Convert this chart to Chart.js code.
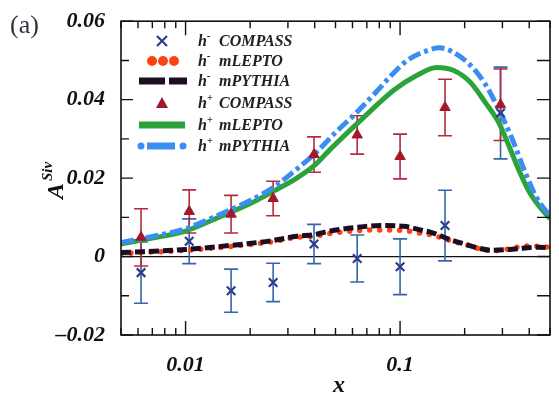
<!DOCTYPE html>
<html>
<head>
<meta charset="utf-8">
<script src="https://cdn.jsdelivr.net/npm/chart.js@4.4.1/dist/chart.umd.min.js"></script>
<style>
  html, body { margin: 0; padding: 0; background: #fff; }
</style>
</head>
<body>
<canvas id="chart" width="559" height="397"></canvas>
<script>
// COMPASS points (same x for h- and h+)
const compassX = [0.0062, 0.0104, 0.0163, 0.0256, 0.0397, 0.0631, 0.100, 0.162, 0.294];
const hMinusVal = [-0.0041, 0.0039, -0.0087, -0.0066, 0.0032, -0.0005, -0.0026, 0.0079, 0.0366];
const hMinusErr = [0.0078, 0.0057, 0.0055, 0.0049, 0.0050, 0.0060, 0.0071, 0.0090, 0.0117];
const hPlusVal = [0.0049, 0.0115, 0.0108, 0.0148, 0.0260, 0.0310, 0.0255, 0.0380, 0.0387];
const hPlusErr = [0.0073, 0.0055, 0.0048, 0.0044, 0.0045, 0.0049, 0.0057, 0.0072, 0.0091];

// model curves, h-
const minusCurveX = [0.005, 0.01, 0.018, 0.0256, 0.033, 0.04, 0.046, 0.062, 0.081, 0.104, 0.124, 0.143, 0.171, 0.203, 0.234, 0.269, 0.322, 0.382, 0.439, 0.5];
const leptoMinus = [0.0008, 0.0016, 0.0028, 0.0038, 0.0049, 0.0052, 0.0058, 0.0066, 0.0068, 0.0066, 0.0060, 0.0054, 0.0041, 0.0030, 0.0020, 0.0015, 0.0019, 0.0027, 0.0026, 0.0024];
const pythiaMinus = [0.0010, 0.0018, 0.0031, 0.0041, 0.0052, 0.0056, 0.0064, 0.0074, 0.0079, 0.0077, 0.0068, 0.0060, 0.0043, 0.0031, 0.0021, 0.0016, 0.0018, 0.0022, 0.0024, 0.0022];

// model curves, h+
const leptoPlusX = [0.005, 0.007, 0.01, 0.014, 0.02, 0.026, 0.033, 0.04, 0.047, 0.066, 0.094, 0.12, 0.148, 0.177, 0.211, 0.251, 0.289, 0.323, 0.357, 0.4, 0.45, 0.5];
const leptoPlus = [0.0032, 0.0047, 0.0065, 0.0098, 0.0135, 0.0168, 0.0200, 0.0233, 0.0272, 0.0349, 0.0425, 0.0462, 0.0482, 0.0475, 0.0446, 0.0391, 0.0341, 0.0280, 0.0222, 0.0165, 0.0125, 0.0097];
const pythiaPlusX = [0.005, 0.007, 0.01, 0.014, 0.02, 0.026, 0.033, 0.04, 0.05, 0.064, 0.079, 0.091, 0.108, 0.134, 0.153, 0.177, 0.217, 0.251, 0.289, 0.333, 0.383, 0.433, 0.5];
const pythiaPlus = [0.0036, 0.0051, 0.0071, 0.0104, 0.0143, 0.0178, 0.0223, 0.0262, 0.0316, 0.0372, 0.0425, 0.0462, 0.0500, 0.0525, 0.0532, 0.0521, 0.0483, 0.0437, 0.0374, 0.0300, 0.0215, 0.0150, 0.0103];

// axis ticks
const xTicks = [0.005, 0.006, 0.007, 0.008, 0.009, 0.01, 0.02, 0.03, 0.04, 0.05, 0.06, 0.07, 0.08, 0.09, 0.1, 0.2, 0.3, 0.4, 0.5];
const xLabelVals = [0.01, 0.1];
const xLabelText = ['0.01', '0.1'];
const yLabelVals = [0.06, 0.04, 0.02, 0, -0.02];
const yLabelText = ['0.06', '0.04', '0.02', '0', '\u20130.02'];

const legendNames = ['COMPASS', 'mLEPTO', 'mPYTHIA', 'COMPASS', 'mLEPTO', 'mPYTHIA'];
const legendSigns = ['-', '-', '-', '+', '+', '+'];

const C = {
  xMark: '#2b3d8c', xBar: '#3465ad',
  tri: '#a3182c', triBar: '#b52a3e',
  dots: '#ff4212', dash: '#1c0e20',
  green: '#2ba33b', blue: '#3a8ef2'
};
const serif = '"Liberation Serif", "Times New Roman", serif';

const pts = (xs, ys) => xs.map((v, i) => ({ x: v, y: ys[i] }));
const findLabel = (vals, txt, v) => {
  const i = vals.findIndex(t => Math.abs(t - v) < 1e-9);
  return i >= 0 ? txt[i] : '';
};

// Ticks, frame, error bars, legend, titles
const decor = {
  id: 'decor',
  beforeDatasetsDraw(chart) {
    const { ctx, chartArea: a, scales: { x, y } } = chart;
    ctx.save();
    const y0 = y.getPixelForValue(0);
    ctx.strokeStyle = '#111';
    ctx.lineWidth = 1.2;
    ctx.beginPath(); ctx.moveTo(a.left, y0); ctx.lineTo(a.right, y0); ctx.stroke();

    const errBars = (vals, errs, color) => {
      ctx.strokeStyle = color;
      ctx.lineWidth = 1.6;
      compassX.forEach((xv, i) => {
        const px = x.getPixelForValue(xv);
        const top = y.getPixelForValue(vals[i] + errs[i]);
        const bot = y.getPixelForValue(vals[i] - errs[i]);
        ctx.beginPath();
        ctx.moveTo(px, top); ctx.lineTo(px, bot);
        ctx.moveTo(px - 7, top); ctx.lineTo(px + 7, top);
        ctx.moveTo(px - 7, bot); ctx.lineTo(px + 7, bot);
        ctx.stroke();
      });
    };
    errBars(hMinusVal, hMinusErr, C.xBar);
    errBars(hPlusVal, hPlusErr, C.triBar);
    ctx.restore();
  },
  afterDraw(chart) {
    const { ctx, chartArea: a, scales: { x, y } } = chart;
    ctx.save();
    ctx.strokeStyle = '#111';
    ctx.lineWidth = 1.6;
    ctx.strokeRect(a.left, a.top, a.right - a.left, a.bottom - a.top);

    // inward ticks
    ctx.lineWidth = 1.4;
    ctx.beginPath();
    xTicks.forEach(v => {
      const px = x.getPixelForValue(v);
      const len = findLabel(xLabelVals, xLabelText, v) ? 14 : 7;
      ctx.moveTo(px, a.bottom); ctx.lineTo(px, a.bottom - len);
      ctx.moveTo(px, a.top); ctx.lineTo(px, a.top + len);
    });
    y.ticks.forEach(t => {
      const py = y.getPixelForValue(t.value);
      const len = findLabel(yLabelVals, yLabelText, t.value) ? 12 : 8;
      ctx.moveTo(a.left, py); ctx.lineTo(a.left + len, py);
      ctx.moveTo(a.right, py); ctx.lineTo(a.right - 13, py);
    });
    ctx.stroke();

    // legend
    const lx = 162, rows = [41, 61, 81, 103, 125, 146];
    rows.forEach((ry, i) => {
      ctx.save();
      if (i === 0) {
        ctx.strokeStyle = C.xMark; ctx.lineWidth = 2.2;
        ctx.beginPath();
        ctx.moveTo(lx - 5, ry - 5); ctx.lineTo(lx + 5, ry + 5);
        ctx.moveTo(lx + 5, ry - 5); ctx.lineTo(lx - 5, ry + 5);
        ctx.stroke();
      } else if (i === 1) {
        ctx.fillStyle = C.dots;
        [-11, 0, 11].forEach(d => { ctx.beginPath(); ctx.arc(lx + d + 1, ry, 5, 0, Math.PI * 2); ctx.fill(); });
      } else if (i === 2) {
        ctx.fillStyle = C.dash;
        ctx.fillRect(139, ry - 3.5, 26, 7);
        ctx.fillRect(169, ry - 3.5, 18, 7);
      } else if (i === 3) {
        ctx.fillStyle = C.tri;
        ctx.beginPath();
        ctx.moveTo(lx, ry - 6); ctx.lineTo(lx + 6, ry + 5); ctx.lineTo(lx - 6, ry + 5);
        ctx.closePath(); ctx.fill();
      } else if (i === 4) {
        ctx.fillStyle = C.green;
        ctx.fillRect(139, ry - 3.5, 46, 7);
      } else {
        ctx.fillStyle = C.blue;
        ctx.beginPath(); ctx.arc(141, ry, 3.5, 0, Math.PI * 2); ctx.fill();
        ctx.fillRect(147, ry - 3.5, 28, 7);
        ctx.beginPath(); ctx.arc(183, ry, 3.5, 0, Math.PI * 2); ctx.fill();
      }
      ctx.fillStyle = '#222';
      ctx.textBaseline = 'alphabetic';
      ctx.font = 'bold italic 16px ' + serif;
      ctx.fillText('h', 198, ry + 5);
      ctx.font = 'bold italic 10px ' + serif;
      ctx.fillText(legendSigns[i], 207, ry - 2);
      ctx.font = 'bold italic 16px ' + serif;
      ctx.fillText(legendNames[i], 219, ry + 5);
      ctx.restore();
    });

    // panel label and axis titles
    ctx.fillStyle = '#2f3440';
    ctx.font = '26px ' + serif;
    ctx.textBaseline = 'alphabetic';
    ctx.fillText('(a)', 10, 33);

    ctx.fillStyle = '#111';
    ctx.font = 'bold italic 24px ' + serif;
    ctx.fillText('x', 333, 392);

    ctx.save();
    ctx.translate(63, 199);
    ctx.rotate(-Math.PI / 2);
    ctx.font = 'bold italic 24px ' + serif;
    ctx.fillText('A', 0, 0);
    const aw = ctx.measureText('A').width;
    ctx.font = 'bold italic 15px ' + serif;
    ctx.fillText('Siv', aw + 2, -11);
    ctx.restore();

    ctx.restore();
  }
};

const ctx = document.getElementById('chart').getContext('2d');
new Chart(ctx, {
  type: 'scatter',
  data: {
    datasets: [
      {
        label: 'h- COMPASS',
        data: pts(compassX, hMinusVal),
        pointStyle: 'crossRot',
        pointRadius: 6,
        borderColor: C.xMark,
        backgroundColor: C.xMark,
        pointBorderWidth: 2.2,
        order: 0
      },
      {
        label: 'h+ COMPASS',
        data: pts(compassX, hPlusVal),
        pointStyle: 'triangle',
        pointRadius: 6,
        borderColor: C.tri,
        backgroundColor: C.tri,
        order: 1
      },
      {
        label: 'h+ mPYTHIA',
        data: pts(pythiaPlusX, pythiaPlus),
        showLine: true,
        pointRadius: 0,
        borderColor: C.blue,
        borderWidth: 5,
        borderDash: [13, 4, 4, 4],
        cubicInterpolationMode: 'monotone',
        order: 2
      },
      {
        label: 'h+ mLEPTO',
        data: pts(leptoPlusX, leptoPlus),
        showLine: true,
        pointRadius: 0,
        borderColor: C.green,
        borderWidth: 5,
        cubicInterpolationMode: 'monotone',
        order: 3
      },
      {
        label: 'h- mPYTHIA',
        data: pts(minusCurveX, pythiaMinus),
        showLine: true,
        pointRadius: 0,
        borderColor: C.dash,
        borderWidth: 5,
        borderDash: [10, 4],
        cubicInterpolationMode: 'monotone',
        order: 4
      },
      {
        label: 'h- mLEPTO',
        data: pts(minusCurveX, leptoMinus),
        showLine: true,
        pointRadius: 0,
        borderColor: C.dots,
        borderWidth: 5.5,
        borderDash: [0, 10],
        borderCapStyle: 'round',
        cubicInterpolationMode: 'monotone',
        order: 5
      }
    ]
  },
  options: {
    responsive: false,
    animation: false,
    events: [],
    layout: { padding: { top: 17, right: 1, left: 0, bottom: 0 } },
    plugins: {
      legend: { display: false },
      tooltip: { enabled: false }
    },
    scales: {
      x: {
        type: 'logarithmic',
        min: 0.005,
        max: 0.5,
        afterBuildTicks: (scale) => { scale.ticks = xTicks.map(v => ({ value: v })); },
        afterFit: (scale) => { scale.height = 62; },
        grid: { display: false },
        border: { display: false },
        ticks: {
          autoSkip: false,
          maxRotation: 0,
          padding: 9,
          color: '#111',
          font: { family: serif, size: 22, style: 'italic', weight: 'bold' },
          callback: (v) => findLabel(xLabelVals, xLabelText, v)
        }
      },
      y: {
        min: -0.02,
        max: 0.06,
        afterFit: (scale) => { scale.width = 121; },
        grid: { display: false },
        border: { display: false },
        ticks: {
          stepSize: 0.01,
          padding: 8,
          color: '#111',
          font: { family: serif, size: 22, style: 'italic', weight: 'bold' },
          callback: (v) => findLabel(yLabelVals, yLabelText, v)
        }
      }
    }
  },
  plugins: [decor]
});
</script>
</body>
</html>
